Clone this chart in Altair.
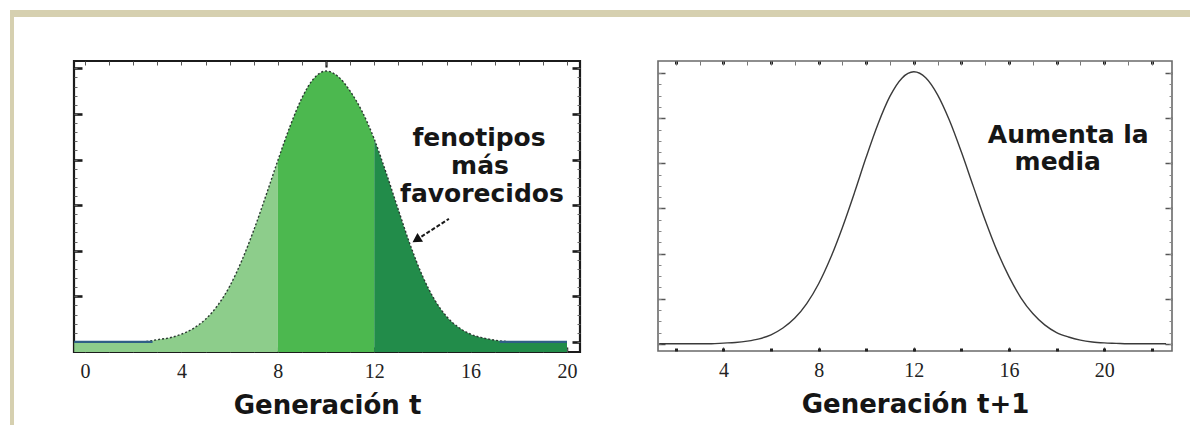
import altair as alt
import pandas as pd

# ---------------- data ----------------
# Generación t (left panel)
GEN_T_X = [-0.45, 0, 0.5, 1, 1.5, 2, 2.5, 3, 3.5, 4, 4.5, 5, 5.5, 6, 6.5, 7, 7.5, 8, 8.5, 9, 9.5,
           10, 10.5, 11, 11.5, 12, 12.5, 13, 13.5, 14, 14.5, 15, 15.5, 16, 16.5, 17, 17.5,
           18, 18.5, 19, 19.5, 20]
GEN_T_Y = [0.0, 0.0, 0.0, 0.0, 0.0, 0.0, 0.01, 0.05, 0.09, 0.17, 0.30, 0.50, 0.80, 1.22, 1.78,
           2.45, 3.20, 3.98, 4.72, 5.35, 5.78, 5.94, 5.82, 5.50, 5.05, 4.45, 3.70, 2.90,
           2.12, 1.45, 0.93, 0.56, 0.32, 0.17, 0.09, 0.04, 0.01, 0.0, 0.0, 0.0, 0.0, 0.0]
SPLIT_LOW = 8
SPLIT_HIGH = 12
TAIL_LEFT_X = [-0.45, 2.8]
TAIL_RIGHT_X = [17.2, 20]
TAIL_Y = [0, 0]

# Generación t+1 (right panel)
GEN_T1_X = [1.3, 2, 2.5, 3, 3.5, 4, 4.5, 5, 5.5, 6, 6.5, 7, 7.5, 8, 8.5, 9, 9.5, 10, 10.5, 11,
            11.5, 12, 12.5, 13, 13.5, 14, 14.5, 15, 15.5, 16, 16.5, 17, 17.5, 18, 18.5, 19,
            19.5, 20, 20.5, 21, 21.5, 22, 22.6]
GEN_T1_Y = [0.0, 0.0, 0.0, 0.0, 0.0, 0.015, 0.03, 0.06, 0.11, 0.20, 0.35, 0.57, 0.89, 1.33, 1.90,
            2.58, 3.34, 4.14, 4.88, 5.49, 5.89, 6.03, 5.90, 5.52, 4.95, 4.25, 3.49, 2.74,
            2.06, 1.49, 1.02, 0.67, 0.42, 0.25, 0.15, 0.08, 0.04, 0.02, 0.01, 0.0, 0.0, 0.0, 0.0]

# tick labels
LEFT_TICK_LABELS = [0, 4, 8, 12, 16, 20]
RIGHT_TICK_LABELS = [4, 8, 12, 16, 20]

# annotations
LEFT_NOTE = ["fenotipos", "más", "favorecidos"]
LEFT_NOTE_X = [16.35, 16.39, 16.47]
LEFT_NOTE_Y = [4.47, 3.86, 3.25]
ARROW_X = [15.1, 13.75]
ARROW_Y = [2.70, 2.24]
RIGHT_NOTE = ["Aumenta la", "media"]
RIGHT_NOTE_X = [18.49, 18.05]
RIGHT_NOTE_Y = [4.62, 4.02]

TITLE_LEFT = "Generación t"
TITLE_RIGHT = "Generación t+1"

# ---------------- styling ----------------
LX_DOM = [-0.46, 20.54]
LY_DOM = [-0.22, 6.16]
RX_DOM = [1.25, 22.85]
RY_DOM = [-0.16, 6.27]
SEG_COLORS = ["#8dcd8b", "#4cb84f", "#228c4a"]
BEIGE = "#d6d0b0"
TEXT_FONT = "DejaVu Sans"
LABEL_FONT = "Liberation Serif"


def scales(xdom, ydom):
    return (alt.Scale(domain=xdom, nice=False, zero=False),
            alt.Scale(domain=ydom, nice=False, zero=False))


def frame_axis(orient, values, size, width, color, labels=False, title=""):
    kw = dict(orient=orient, values=values, tickSize=size, offset=-size, tickWidth=width,
              tickColor=color, domain=False, grid=False, labels=labels, title=title)
    if labels:
        kw.update(labelFont=LABEL_FONT, labelFontSize=20, labelColor="#222",
                  labelPadding=9)
    if title:
        kw.update(titleFont=TEXT_FONT, titleFontSize=26, titleFontWeight="bold",
                  titleColor="#151515", titlePadding=11)
    return alt.Axis(**kw)


def axis_layers(xdom, ydom, specs):
    xs, ys = scales(xdom, ydom)
    corners = pd.DataFrame({"x": xdom, "y": ydom})
    out = []
    for xa, ya in specs:
        out.append(alt.Chart(corners).mark_point(opacity=0, size=1).encode(
            x=alt.X("x:Q", scale=xs, axis=xa),
            y=alt.Y("y:Q", scale=ys, axis=ya)))
    return out


# ---------------- left panel ----------------
lxs, lys = scales(LX_DOM, LY_DOM)
rows = []
for x, y in zip(GEN_T_X, GEN_T_Y):
    if x <= SPLIT_LOW:
        rows.append({"x": x, "y": y, "seg": "a"})
    if SPLIT_LOW <= x <= SPLIT_HIGH:
        rows.append({"x": x, "y": y, "seg": "b"})
    if x >= SPLIT_HIGH:
        rows.append({"x": x, "y": y, "seg": "c"})
seg_df = pd.DataFrame(rows)
curve_left = pd.DataFrame({"x": GEN_T_X, "y": GEN_T_Y})

# decorative beige border strips of the slide (kept inside the page width)
one = pd.DataFrame({"k": [0]})
strip_left = alt.Chart(one).mark_rect(color=BEIGE).encode(
    x=alt.value(-64), x2=alt.value(-60), y=alt.value(-51), y2=alt.value(366))
strip_top = alt.Chart(one).mark_rect(color=BEIGE).encode(
    x=alt.value(-64), x2=alt.value(1116), y=alt.value(-51), y2=alt.value(-44))

areas = alt.Chart(seg_df).mark_area(interpolate="monotone").encode(
    x=alt.X("x:Q", scale=lxs, axis=None),
    y=alt.Y("y:Q", scale=lys, axis=None),
    y2=alt.datum(LY_DOM[0]),
    color=alt.Color("seg:N", scale=alt.Scale(domain=["a", "b", "c"], range=SEG_COLORS), legend=None),
)
outline = alt.Chart(curve_left).mark_line(interpolate="monotone", color="#2c3a33",
                                          strokeWidth=1.4, strokeDash=[2, 2]).encode(
    x=alt.X("x:Q", scale=lxs, axis=None), y=alt.Y("y:Q", scale=lys, axis=None))

tails = pd.DataFrame({"x": TAIL_LEFT_X + TAIL_RIGHT_X, "y": TAIL_Y + TAIL_Y,
                      "g": ["l", "l", "r", "r"]})
tail_lines = alt.Chart(tails).mark_line(color="#2f5f86", strokeWidth=2.2).encode(
    x=alt.X("x:Q", scale=lxs, axis=None), y=alt.Y("y:Q", scale=lys, axis=None), detail="g:N")

note_left = alt.Chart(pd.DataFrame({"t": LEFT_NOTE, "x": LEFT_NOTE_X, "y": LEFT_NOTE_Y})).mark_text(
    font=TEXT_FONT, fontSize=25, fontWeight="bold", color="#161616", baseline="middle").encode(
    x=alt.X("x:Q", scale=lxs, axis=None), y=alt.Y("y:Q", scale=lys, axis=None), text="t:N")

arrow_df = pd.DataFrame({"x": ARROW_X, "y": ARROW_Y})
arrow_shaft = alt.Chart(arrow_df).mark_line(color="#1a1a1a", strokeWidth=2, strokeDash=[4, 2]).encode(
    x=alt.X("x:Q", scale=lxs, axis=None), y=alt.Y("y:Q", scale=lys, axis=None))
arrow_head = alt.Chart(arrow_df.tail(1)).mark_point(shape="triangle-left", filled=True, size=110,
                                                    color="#111", angle=328, opacity=1).encode(
    x=alt.X("x:Q", scale=lxs, axis=None), y=alt.Y("y:Q", scale=lys, axis=None))

L_DARK = "#1b1b1b"
left_axes = axis_layers(LX_DOM, LY_DOM, [
    (frame_axis("bottom", LEFT_TICK_LABELS, 5, 1.5, L_DARK, labels=True, title=TITLE_LEFT),
     frame_axis("left", [0, 1, 2, 3, 4, 5, 6], 8, 2.6, L_DARK)),
    (frame_axis("bottom", list(range(0, 21)), 4, 1, "#555"),
     frame_axis("left", [round(i * 0.2, 2) for i in range(31)], 3, 1, "#666")),
    (frame_axis("top", [10], 6, 2.2, L_DARK),
     frame_axis("right", [0, 1, 2, 3, 4, 5, 6], 8, 2.6, L_DARK)),
    (frame_axis("top", list(range(0, 21)), 4, 1, "#555"),
     frame_axis("right", [round(i * 0.2, 2) for i in range(31)], 3, 1, "#666")),
])

left = alt.layer(strip_left, strip_top, areas, outline, tail_lines, note_left, arrow_shaft,
                 arrow_head, *left_axes).resolve_axis(x="independent", y="independent").properties(
    width=506, height=291, view=alt.ViewBackground(stroke=L_DARK, strokeWidth=2.2, fill="white"))

# ---------------- right panel ----------------
rxs, rys = scales(RX_DOM, RY_DOM)
curve_right = pd.DataFrame({"x": GEN_T1_X, "y": GEN_T1_Y})
line_right = alt.Chart(curve_right).mark_line(interpolate="monotone", color="#3a3a3a",
                                              strokeWidth=1.4).encode(
    x=alt.X("x:Q", scale=rxs, axis=None), y=alt.Y("y:Q", scale=rys, axis=None))
note_right = alt.Chart(pd.DataFrame({"t": RIGHT_NOTE, "x": RIGHT_NOTE_X, "y": RIGHT_NOTE_Y})).mark_text(
    font=TEXT_FONT, fontSize=25, fontWeight="bold", color="#161616", baseline="middle").encode(
    x=alt.X("x:Q", scale=rxs, axis=None), y=alt.Y("y:Q", scale=rys, axis=None), text="t:N")

R_GRAY = "#555"
right_axes = axis_layers(RX_DOM, RY_DOM, [
    (frame_axis("bottom", RIGHT_TICK_LABELS, 4, 1.2, R_GRAY, labels=True, title=TITLE_RIGHT),
     frame_axis("left", [0, 1, 2, 3, 4, 5, 6], 7, 1.5, R_GRAY)),
    (frame_axis("bottom", list(range(2, 23, 2)), 3, 3, "#222"),
     frame_axis("left", [round(i * 0.25, 2) for i in range(25)], 3, 1, "#888")),
    (frame_axis("top", list(range(2, 23, 2)), 3, 3, "#222"),
     frame_axis("right", [0, 1, 2, 3, 4, 5, 6], 7, 1.5, R_GRAY)),
    (frame_axis("top", list(range(2, 23)), 4, 1, "#777"),
     frame_axis("right", [round(i * 0.25, 2) for i in range(25)], 3, 1, "#888")),
])

right = alt.layer(line_right, note_right, *right_axes).resolve_axis(
    x="independent", y="independent").properties(
    width=514, height=290, view=alt.ViewBackground(stroke="#6a6a6a", strokeWidth=1.6, fill="white"))

chart = alt.hconcat(left, right, spacing=78, bounds="flush").properties(
    padding=0, background="white").configure_view(stroke=None)

chart.save("out.html", embed_options={"renderer": "svg", "actions": False})
